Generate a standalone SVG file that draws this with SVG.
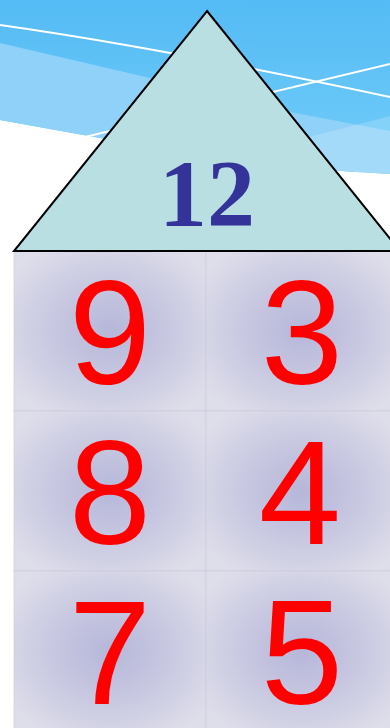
<svg xmlns="http://www.w3.org/2000/svg" width="390" height="728" viewBox="0 0 390 728">
  <defs>
    <linearGradient id="sky" x1="0" y1="0" x2="0" y2="1">
      <stop offset="0" stop-color="#54bbf4"/>
      <stop offset="1" stop-color="#72cdf9"/>
    </linearGradient>
    <radialGradient id="cellg" cx="0.5" cy="0.5" r="0.62">
      <stop offset="0" stop-color="#b6b6da"/>
      <stop offset="0.55" stop-color="#cacae2"/>
      <stop offset="1" stop-color="#dedeea"/>
    </radialGradient>
    <style>
      .cell { fill: url(#cellg); stroke: #c8c8dc; stroke-width: 0.6; }
      .num { font-family: "Liberation Sans", Arial, sans-serif; font-size: 148px; fill: #ff0000; text-anchor: middle; }
      .sum { font-family: "Liberation Serif", "Times New Roman", serif; font-size: 96px; font-weight: bold; fill: #333399; text-anchor: middle; }
      .wline { fill: none; stroke: #ffffff; stroke-width: 2; }
    </style>
  </defs>

  <rect width="390" height="728" fill="#ffffff"/>

  <g id="background">
    <path d="M0,0 H390 V174 C360,172 330,171 300,166 C220,156 150,146 100,138 L0,120 Z" fill="url(#sky)"/>
    <path d="M0,43 L150,78 L290,112 L390,131 V174 C360,172 330,171 300,166 C220,156 150,146 100,138 L0,120 Z" fill="#8fd1f8"/>
    <path d="M290,142 L390,116 V174 C360,172 330,171 300,166 Z" fill="#ffffff" fill-opacity="0.18"/>
    <path class="wline" d="M0,25 C120,42 250,67 390,97"/>
    <path class="wline" d="M85,137 L390,64"/>
  </g>

  <g id="cell-9"><rect class="cell" x="14" y="251" width="192" height="160"/><text class="num" x="110" y="384">9</text></g>
  <g id="cell-3"><rect class="cell" x="206" y="251" width="192" height="160"/><text class="num" x="302" y="384">3</text></g>
  <g id="cell-8"><rect class="cell" x="14" y="411" width="192" height="160"/><text class="num" x="110" y="544">8</text></g>
  <g id="cell-4"><rect class="cell" x="206" y="411" width="192" height="160"/><text class="num" x="300" y="544">4</text></g>
  <g id="cell-7"><rect class="cell" x="14" y="571" width="192" height="160"/><text class="num" x="110" y="704">7</text></g>
  <g id="cell-5"><rect class="cell" x="206" y="571" width="192" height="160"/><text class="num" x="302" y="704">5</text></g>

  <g id="roof">
    <polygon points="207,11 400,251 14,251" fill="#b9dfe3" stroke="#000000" stroke-width="2" stroke-linejoin="miter"/>
    <text class="sum" x="207" y="226">12</text>
  </g>
</svg>
